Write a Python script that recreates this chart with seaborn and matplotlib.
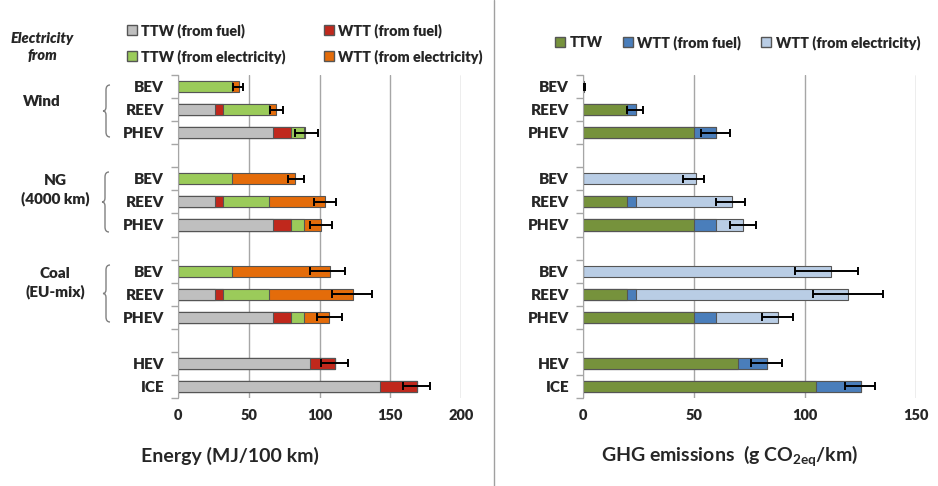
import numpy as np
import pandas as pd
import seaborn as sns
import matplotlib.pyplot as plt
from matplotlib.patches import Patch, PathPatch
from matplotlib.path import Path
from matplotlib.lines import Line2D

sns.set_style("white")
plt.rcParams['font.family'] = ['Lato', 'DejaVu Sans']
plt.rcParams['mathtext.fontset'] = 'custom'
plt.rcParams['mathtext.rm'] = 'Lato:bold'
plt.rcParams['mathtext.bf'] = 'Lato:bold'
plt.rcParams['mathtext.it'] = 'Lato:italic:bold'
plt.rcParams['mathtext.default'] = 'regular'

# rows (top to bottom), gaps are empty slots
rows = ['w_bev', 'w_reev', 'w_phev', 'ng_bev', 'ng_reev', 'ng_phev',
        'c_bev', 'c_reev', 'c_phev', 'hev', 'ice']
order = ['w_bev', 'w_reev', 'w_phev', 'gap1', 'ng_bev', 'ng_reev', 'ng_phev', 'gap2',
         'c_bev', 'c_reev', 'c_phev', 'gap3', 'hev', 'ice']
tick_names = ['BEV', 'REEV', 'PHEV', '', 'BEV', 'REEV', 'PHEV', '',
              'BEV', 'REEV', 'PHEV', '', 'HEV', 'ICE']

# Energy (MJ/100 km)
ttw_fuel = [0, 26, 67, 0, 26, 67, 0, 26, 67, 93, 143]
wtt_fuel = [0, 6, 13, 0, 6, 13, 0, 6, 13, 18, 26]
ttw_elec = [38, 32, 9, 38, 32, 9, 38, 32, 9, 0, 0]
wtt_elec = [5, 5, 0.6, 45, 40, 12, 69.5, 60, 18, 0, 0]
energy_lo = [39, 65, 83, 78, 96, 93, 93, 109, 98, 101, 159]
energy_hi = [46, 74, 99, 89, 112, 109, 118, 137, 116, 120, 178]

# GHG emissions (g CO2eq/km)
ghg_ttw = [0, 20, 50, 0, 20, 50, 0, 20, 50, 70, 105]
ghg_wtt_fuel = [0, 4, 10, 0, 4, 10, 0, 4, 10, 13, 20]
ghg_wtt_elec = [0.5, 0, 0, 51, 43, 12, 111.5, 95.5, 28, 0, 0]
ghg_lo = [0, 20, 53, 45, 60, 66, 95.5, 103.5, 80.5, 75.5, 118]
ghg_hi = [1, 27, 66, 54.5, 73, 78, 124, 135, 94.7, 89.5, 131.5]

energy_colors = ['#BFBFBF', '#C0281C', '#9BCB5A', '#E46C0A']
ghg_colors = ['#76923C', '#4A7EBB', '#B9CDE5']
edge = '#555555'
grid_c = '#A6A6A6'


def stacked(ax, segments, colors, lo, hi, xmax, ticks):
    df = pd.DataFrame({'row': rows})
    cum = np.cumsum(np.array(segments, dtype=float), axis=0)
    # draw cumulative totals from the longest down so segments show
    for k in range(len(segments) - 1, -1, -1):
        df['val'] = cum[k]
        sns.barplot(data=df, x='val', y='row', order=order, orient='h',
                    color=colors[k], saturation=1, edgecolor=edge,
                    linewidth=0.8, width=0.48, ax=ax)
    total = cum[-1]
    ax.errorbar(total, rows, xerr=[total - np.array(lo), np.array(hi) - total],
                fmt='none', ecolor='black', elinewidth=1.4, capsize=3,
                capthick=1.4, zorder=5)
    ax.set_xlim(0, xmax)
    ax.set_xticks(ticks)
    ax.set_xticklabels([str(t) for t in ticks], fontweight='heavy', fontsize=10.5)
    ax.set_yticks(range(len(order)))
    ax.set_yticklabels(tick_names, fontweight='heavy', fontsize=11)
    ax.set_yticks(np.arange(len(order) + 1) - 0.5, minor=True)
    ax.tick_params(axis='y', which='major', length=0, pad=10)
    ax.tick_params(axis='y', which='minor', length=5, color=grid_c, width=1,
                   left=True)
    ax.tick_params(axis='x', length=0, pad=8)
    ax.set_ylim(len(order) - 0.5, -0.5)
    ax.set_xlabel('')
    ax.set_ylabel('')
    ax.grid(axis='x', color=grid_c, linewidth=1)
    ax.set_axisbelow(True)
    for s in ['top', 'right', 'bottom']:
        ax.spines[s].set_visible(False)
    ax.spines['left'].set_color(grid_c)


fig = plt.figure(figsize=(9.38, 4.86), dpi=100)
ax1 = fig.add_axes([178 / 938, 1 - 398 / 486, 283 / 938, 323 / 486])
ax2 = fig.add_axes([583 / 938, 1 - 398 / 486, 333 / 938, 323 / 486])

stacked(ax1, [ttw_fuel, wtt_fuel, ttw_elec, wtt_elec], energy_colors,
        energy_lo, energy_hi, 200, [0, 50, 100, 150, 200])
stacked(ax2, [ghg_ttw, ghg_wtt_fuel, ghg_wtt_elec], ghg_colors,
        ghg_lo, ghg_hi, 150, [0, 50, 100, 150])

# legends
h1 = [Patch(facecolor=energy_colors[0], edgecolor=edge, label='TTW (from fuel)'),
      Patch(facecolor=energy_colors[2], edgecolor=edge, label='TTW (from electricity)'),
      Patch(facecolor=energy_colors[1], edgecolor=edge, label='WTT (from fuel)'),
      Patch(facecolor=energy_colors[3], edgecolor=edge, label='WTT (from electricity)')]
fig.legend(handles=h1, ncol=2, loc='upper left', bbox_to_anchor=(114 / 938, 1 - 10 / 486),
           frameon=False, handlelength=0.7, handleheight=0.7,
           handletextpad=0.3, columnspacing=2.6, labelspacing=0.8,
           prop={'weight': 'heavy', 'size': 10.4})
h2 = [Patch(facecolor=ghg_colors[0], edgecolor=edge, label='TTW'),
      Patch(facecolor=ghg_colors[1], edgecolor=edge, label='WTT (from fuel)'),
      Patch(facecolor=ghg_colors[2], edgecolor=edge, label='WTT (from electricity)')]
fig.legend(handles=h2, ncol=3, loc='upper left', bbox_to_anchor=(542 / 938, 1 - 22 / 486),
           frameon=False, handlelength=0.7, handleheight=0.7,
           handletextpad=0.3, columnspacing=1.4,
           prop={'weight': 'heavy', 'size': 10.4})

# axis titles
fig.text(230 / 938, 1 - 456 / 486, 'Energy (MJ/100 km)', ha='center', va='center',
         fontsize=14, fontweight='bold')
fig.text(730 / 938, 1 - 456 / 486, 'GHG emissions  (g CO$_{2eq}$/km)', ha='center',
         va='center', fontsize=14, fontweight='bold')

# group labels
fig.text(42 / 938, 1 - 47 / 486, 'Electricity\nfrom', ha='center', va='center',
         fontsize=10.5, fontweight='heavy', style='italic', linespacing=1.3)
fig.text(42 / 938, 1 - 101 / 486, 'Wind', ha='center', va='center',
         fontsize=11, fontweight='heavy')
fig.text(55 / 938, 1 - 190 / 486, 'NG\n(4000 km)', ha='center', va='center',
         fontsize=11, fontweight='heavy', linespacing=1.4)
fig.text(55 / 938, 1 - 283 / 486, 'Coal\n(EU-mix)', ha='center', va='center',
         fontsize=11, fontweight='heavy', linespacing=1.4)


def brace(x, y0, y1):
    # curly brace in figure pixels, opening to the right
    ym = (y0 + y1) / 2
    pts = [(x + 4, y0), (x, y0), (x, y0 + 5), (x, ym - 4), (x, ym), (x - 3, ym),
           (x, ym), (x, ym + 4), (x, y1 - 5), (x, y1), (x + 4, y1)]
    codes = [Path.MOVETO, Path.CURVE3, Path.CURVE3, Path.LINETO, Path.CURVE3, Path.CURVE3,
             Path.CURVE3, Path.CURVE3, Path.LINETO, Path.CURVE3, Path.CURVE3]
    verts = [(px / 938, 1 - py / 486) for px, py in pts]
    fig.patches.append(PathPatch(Path(verts, codes), transform=fig.transFigure,
                                 fill=False, edgecolor='#808080', linewidth=1))


brace(106, 85, 137)
brace(105, 172, 232)
brace(106, 265, 322)

# divider between panels
fig.add_artist(Line2D([494 / 938, 494 / 938], [0, 1], transform=fig.transFigure,
                      color='#A0A0A0', linewidth=1))

fig.savefig('out.png', dpi=100, facecolor='white')
